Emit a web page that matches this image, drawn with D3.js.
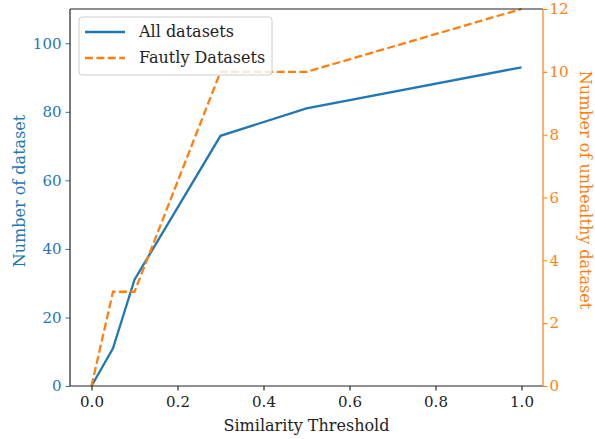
<!DOCTYPE html>
<html>
<head>
<meta charset="utf-8">
<script src="https://cdn.jsdelivr.net/npm/d3@7"></script>
<style>
  body { margin: 0; background: #fff; }
</style>
</head>
<body>
<div id="chart"></div>
<script>
// Data
const thresholds = [0, 0.05, 0.1, 0.3, 0.5, 1.0];
const allDatasets = [0, 11, 31, 73, 81, 93];
const faultyDatasets = [0, 3, 3, 10, 10, 12];
const xTicks = [0, 0.2, 0.4, 0.6, 0.8, 1.0];
const leftTicks = [0, 20, 40, 60, 80, 100];
const rightTicks = [0, 2, 4, 6, 8, 10, 12];

const blue = "#1f77b4";
const orange = "#ff7f0e";
const font = "'DejaVu Serif', serif";

const width = 595, height = 439;
const margin = {top: 9, right: 52, bottom: 53, left: 70};
const iw = width - margin.left - margin.right;
const ih = height - margin.top - margin.bottom;

const svg = d3.select("#chart").append("svg")
    .attr("width", width)
    .attr("height", height)
    .attr("font-family", font);

const g = svg.append("g").attr("transform", `translate(${margin.left},${margin.top})`);

const x = d3.scaleLinear().domain([-0.05, 1.05]).range([0, iw]);
const yL = d3.scaleLinear().domain([0, 110]).range([ih, 0]);
const yR = d3.scaleLinear().domain([0, 12]).range([ih, 0]);

// lines
const lineAll = d3.line()
    .x((d, i) => x(thresholds[i]))
    .y(d => yL(d));
const lineFaulty = d3.line()
    .x((d, i) => x(thresholds[i]))
    .y(d => yR(d));

g.append("path")
    .datum(allDatasets)
    .attr("d", lineAll)
    .attr("fill", "none")
    .attr("stroke", blue)
    .attr("stroke-width", 2.3);

g.append("path")
    .datum(faultyDatasets)
    .attr("d", lineFaulty)
    .attr("fill", "none")
    .attr("stroke", orange)
    .attr("stroke-width", 2.3)
    .attr("stroke-dasharray", "8,3.4");

// axes
const fs = "15px";
const xAxis = g.append("g")
    .attr("transform", `translate(0,${ih})`)
    .call(d3.axisBottom(x).tickValues(xTicks).tickFormat(d3.format(".1f")).tickSize(4.5).tickPadding(6));
xAxis.attr("font-family", font);
xAxis.selectAll("text").attr("font-size", fs).attr("fill", "#222");

const leftAxis = g.append("g")
    .call(d3.axisLeft(yL).tickValues(leftTicks).tickSize(4.5).tickPadding(4));
leftAxis.attr("font-family", font);
leftAxis.selectAll("text").attr("font-size", fs).attr("fill", blue);
leftAxis.selectAll(".tick line").attr("stroke", blue);

const rightAxis = g.append("g")
    .attr("transform", `translate(${iw},0)`)
    .call(d3.axisRight(yR).tickValues(rightTicks).tickSize(4.5).tickPadding(2));
rightAxis.attr("font-family", font);
rightAxis.selectAll("text").attr("font-size", fs).attr("fill", orange);
rightAxis.selectAll(".tick line").attr("stroke", orange);

// spines
[xAxis, leftAxis, rightAxis].forEach(a => a.select(".domain").remove());
g.append("line").attr("x1", 0).attr("x2", iw).attr("y1", 0).attr("y2", 0)
    .attr("stroke", "#222").attr("stroke-width", 1.2);
g.append("line").attr("x1", 0).attr("x2", iw).attr("y1", ih).attr("y2", ih)
    .attr("stroke", "#222").attr("stroke-width", 1.2);
g.append("line").attr("x1", 0).attr("x2", 0).attr("y1", 0).attr("y2", ih)
    .attr("stroke", "#222").attr("stroke-width", 1.2);
g.append("line").attr("x1", iw).attr("x2", iw).attr("y1", 0).attr("y2", ih)
    .attr("stroke", orange).attr("stroke-width", 1.2);

// axis labels
svg.append("text")
    .attr("x", margin.left + iw / 2)
    .attr("y", 431)
    .attr("text-anchor", "middle")
    .attr("font-size", "16px")
    .attr("fill", "#222")
    .text("Similarity Threshold");

svg.append("text")
    .attr("transform", "translate(25,191) rotate(-90)")
    .attr("text-anchor", "middle")
    .attr("font-size", "16px")
    .attr("fill", blue)
    .text("Number of dataset");

svg.append("text")
    .attr("transform", "translate(580,190) rotate(90)")
    .attr("text-anchor", "middle")
    .attr("font-size", "16px")
    .attr("fill", orange)
    .text("Number of unhealthy dataset");

// legend
const legend = svg.append("g").attr("transform", "translate(79,17)");
legend.append("rect")
    .attr("width", 193).attr("height", 58)
    .attr("rx", 3)
    .attr("fill", "#fff").attr("fill-opacity", 0.8)
    .attr("stroke", "#ccc");
const legendItems = [
    {label: "All datasets", color: blue, dash: null},
    {label: "Fautly Datasets", color: orange, dash: "8,3.4"}
];
legendItems.forEach((d, i) => {
    const yy = 15 + i * 26;
    legend.append("line")
        .attr("x1", 6).attr("x2", 46).attr("y1", yy).attr("y2", yy)
        .attr("stroke", d.color).attr("stroke-width", 2.3)
        .attr("stroke-dasharray", d.dash);
    legend.append("text")
        .attr("x", 60).attr("y", yy + 5)
        .attr("font-size", "16px")
        .attr("fill", "#222")
        .text(d.label);
});
</script>
</body>
</html>
